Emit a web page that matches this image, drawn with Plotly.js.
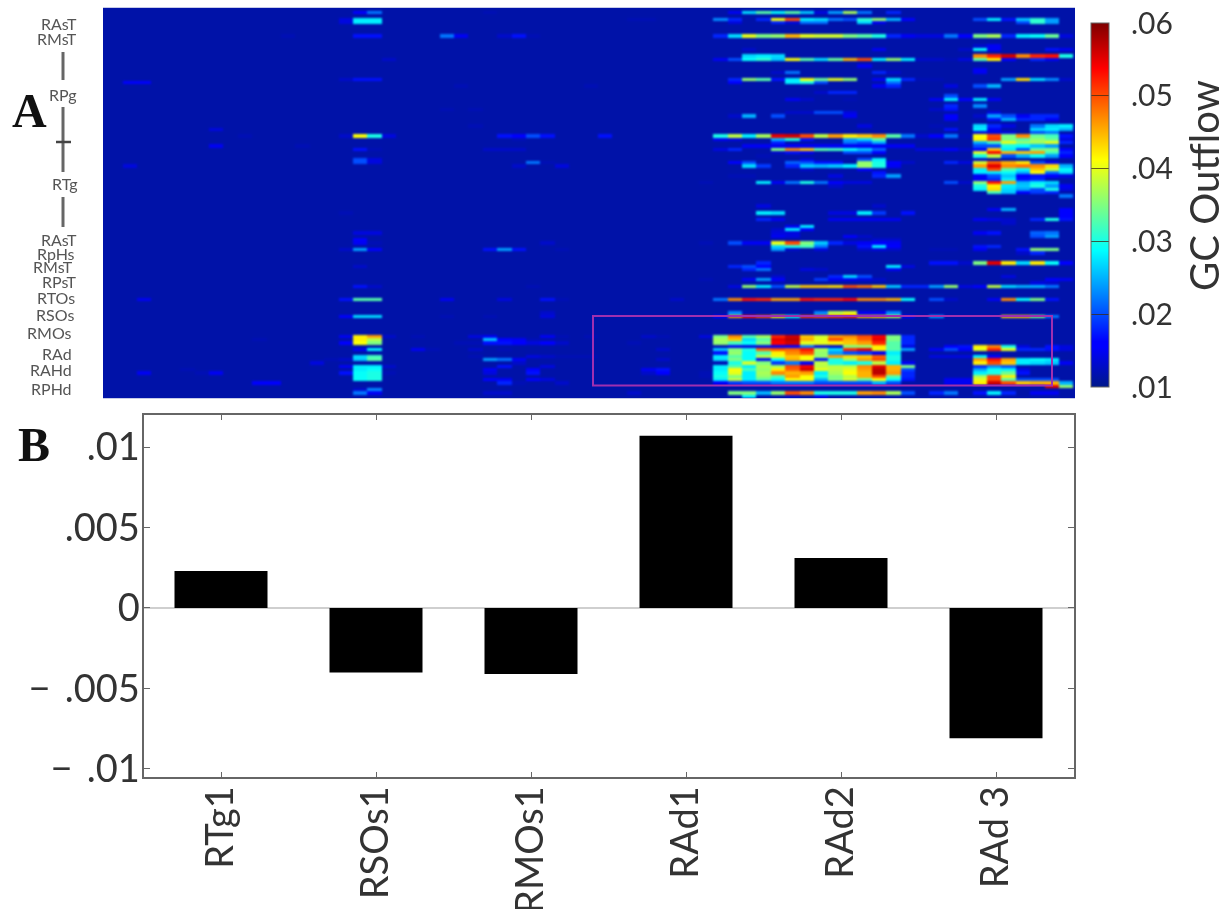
<!DOCTYPE html>
<html><head><meta charset="utf-8">
<script src="https://cdn.plot.ly/plotly-3.0.1.min.js"></script>
<style>html,body{margin:0;padding:0;background:#fff}#c{width:1228px;height:909px;filter:blur(0.4px)}
.hm image{filter:blur(0.8px)}</style></head><body><div id="c"></div>
<script>
const barCategories=['RTg1','RSOs1','RMOs1','RAd1','RAd2','RAd 3'];
const barValues=[0.0023,-0.004,-0.0041,0.0107,0.0031,-0.0081];
const gcTicks=[0.01,0.02,0.03,0.04,0.05,0.06];
const gcTickText=['.01','.02','.03','.04','.05','.06'];
const regionLabels=['RAsT','RMsT','RPg','RTg','RAsT','RpHs','RMsT','RPsT','RTOs','RSOs','RMOs','RAd','RAHd','RPHd'];
const barTickVals=[-0.01,-0.005,0,0.005,0.01];
const barTickText=['\u2212\u2009\u2009\u2009.01','\u2212\u2009\u2009\u2009.005','0','.005','.01'];
const backgroundValue=11.4;
// GC outflow in thousandths: [row, first column, values...]; 0 leaves the background
const segLeft=[
[1,17,16,22],[3,16,14,28,28],[4,16,14,28,28],[8,12,12],[8,17,17,17],[15,19,13],[21,16,13,17,17],[22,1,16,16],
[36,7,14],[38,9,12],[38,16,13,41,30,14],[41,7,15],[41,13,12],[42,17,17,12],[45,17,20,14],[46,17,20,14],[47,1,14],
[61,16,12],[67,17,14,14],[69,17,16],[70,17,15,12],[72,16,13,24,16],[77,17,13],[83,17,17,13],[87,2,15],[87,16,17,33,33],
[92,16,16,27,27],[98,16,15,42,46,13],[98,21,12],[99,10,12],[99,17,42,38],[100,16,16,41,35],[102,17,15,28],[102,21,15,12],
[104,17,27,32],[105,15,12,13,26,33],[106,14,14],[107,16,15,28,28,13],[108,5,12],[108,17,28,29],[109,2,15],[109,6,12,15],
[109,16,17,29,30,12],[110,17,29,30],[111,17,29,30],[112,10,16,16],[114,17,13,23],[115,17,22,15]];
const segMiddle=[
[1,26,12],[3,36,12,12],[8,23,22,15],[8,27,13,17,12],[23,24,12],[23,33,12],[30,23,12],[30,25,12],[35,25,12],
[38,27,17,16,20,17],[38,34,17],[39,28,12],[42,26,13,13,13],[46,29,22,12],[47,28,13],[47,31,14],[52,41,12],
[70,30,13],[70,41,12],[72,26,17,24,17],[72,31,12],[81,41,12],[83,29,12],[87,23,15],[87,27,14],[87,30,17,12],[87,39,13],
[91,30,13],[92,23,12],[92,26,12],[92,30,14],[98,25,14,15],[98,30,15,12],[98,33,12],[98,37,13,12],[98,41,14],
[99,26,26,16,15,12],[100,24,12,12,17,17,16,14,16,13],[100,36,12],[102,25,13],[102,27,12],[102,38,13],
[104,25,12],[104,29,14,13,12,12,12],[105,26,24,22,15],[105,38,13],[106,28,13],[107,27,17],[107,30,14],
[108,26,15],[108,29,16],[108,37,15,17],[109,26,14],[109,29,17],[109,37,13,16],[109,41,12],[110,41,12],
[111,26,16,15,0,16,14],[112,27,18,12],[112,31,13],[115,26,13,13],[115,36,13]];
const segRightUpper=[
[1,43,15,27,33,29,33,26,14,24,37,22,0,18],
[3,42,23,18,0,18,41,50,28,27,22,20,31,36,25,16],[3,60,20,28,17,26,31,24],
[4,43,14,0,0,18,14,22,22,0,0,27,15],[4,63,20,31,24],
[8,42,18,27,40,35,36,45,40,39,39,35,33,30,18,15,14,14,22,16,35,37,18,28,29,34,14],
[11,60,13,15],[12,44,13],[12,53,15],[12,59,13,29,15],[12,65,17,15],
[14,44,27,28,27],[14,60,47,52,56,47,52,53,30],
[15,42,15,20,29,31,26,41,33,27,34,45,50,28,36,28,13,13,12,14,33,42,16,0,18,15],
[17,52,15],[18,60,15],[19,46,13,22],[19,53,18,13],[19,60,15],
[21,43,18,36,33,17,28,41,34,40,36,0,15,27,18,12,12],[21,62,24,43,27,23,13],
[22,43,16,0,0,0,28,30,20],[22,54,22],
[23,53,15,18],[23,58,14,0,20,25],[25,49,13,18,18],[26,58,20],[27,47,15,13,0,0,12],[27,57,15,28,16,28,15],
[29,58,18,0,23],[30,57,13,17],[31,47,13,13,20,20,14],[31,61,14],
[32,43,13,25,0,20],[32,51,15],[32,58,16],[32,60,13,24,20,15,18,18],[33,58,15],[33,61,17,25,18,18,15],
[35,52,14],[35,57,12],[35,60,27,18,14,0,22,27,28],[36,58,17],[36,60,28,15,0,0,27,28,25],
[37,60,14,14,14,0,20,22],
[38,42,30,38,28,37,55,56,50,38,46,42,44,47,33,22,13,16,22,12,41,50,35,47,34,32,17],
[39,42,15,14,0,0,25,30,17,0,0,24,27,33],[39,60,42,51,35,33,36,34,14],
[40,46,18],[40,51,22,20,25],[40,60,25,32,40,36,37,40,18],
[41,44,15,15,15,15,15,15,15,15,15,15,15,15],[41,60,20,20,30,29,26,24],
[42,42,14,18,0,0,35,47,44,33,32,29,26,21,0,0,14,14,16,13,16,44,28,20,34,35,16],
[43,46,13,17,15,0,0,20,20,16],[43,60,40,54,45,44,46,32,18],
[44,45,12],[44,60,30,38,20,25,29,24,16],[45,48,14],[45,52,20,28],[45,60,13],
[46,43,16,20,0,0,21,20,17,17,0,36,30,16,13,0,0,18,14,39,49,45,42,20,15],
[47,44,27,19,0,18,26,25,26,28,36,30,15],[47,60,46,55,47,48,47,43,25],
[48,48,13],[48,52,16],[48,60,28,50,33,29,44,38,29],
[49,53,17],[49,60,28,28,29,25,41,22,27],
[50,43,12,12],[50,50,14],[50,53,18,24],[50,60,15,20,26,16,17,16,14],[51,60,15,18,28,17,18],
[52,45,28,15,22,30,22,16,14,14],[52,58,20,13,36,53,46,25,28,27],[53,50,13],[53,60,30,42,28,26,30,24,15],
[54,60,28,43,27,24,20,30,14],[55,61,32,26,16,19,18],[56,66,22]];
const segRightLower=[
[59,45,14],[59,53,13],[60,61,15,25],[60,66,16],[61,45,28,27],[61,50,14,14,28,19,0,17],[61,66,16],[62,66,16],
[63,45,18,15],[63,50,15,15,15,15,15],[63,60,15,14,13,0,18,30,17],[64,62,13],[65,47,15,28],[66,46,13,28,16],
[67,46,14,14],[67,60,15,17],[67,64,21,22],[68,46,15,14],[68,51,16,13],[68,64,20,24],[69,53,13,13],
[70,43,20,15,15,40,50,35,26,18,14,15,16,15],[71,46,27,30,32,22,0,0,17,28,16],[71,60,17,18],
[72,46,24,13,0,14],[72,52,13,14,13],[72,57,12,12,0,15],[72,63,17,36,35],[73,63,13,18],
[76,45,18],[76,57,17,17,13,35,55,42,27,42,29,16],[77,43,18,20,16],[77,54,28,14],[78,44,18,22],[78,48,14,13],[78,54,15],
[80,46,13],[80,50,18,27,20],[80,62,14],[81,44,15,24,16],[81,49,19,15,15,14,13],[81,65,16,15],[82,46,12],[82,64,14,13],
[83,43,14,36,28,20,38,44,44,43,50,48,44,26,18,18,24,36,14,16,38,27,25,25,22],
[87,42,22,47,53,52,46,46,53,52,52,54,47,47,45,29,0,20,13],[87,61,15,47,29,35,17],
[91,44,12],[91,43,23],[91,49,23,38,40,15,15,23],
[92,42,16,46,53,50,42,30,51,50,51,52,45,44,38,15,0,24],[92,62,44,44,35,22],
[98,42,35,47,33,37,52,56,44,39,46,47,50,54,35,18],
[99,42,37,44,27,33,55,57,45,40,50,45,49,55,35,18],
[100,42,36,32,29,35,54,56,40,40,42,44,46,52,33,18],
[101,42,12,15,14,14,15,16,22,14,13,35,36,42,33,14],[101,58,16,17,42,47,30,14,0,17,14],
[102,42,26,35,30,49,50,49,53,37,27,52,55,42,33,24,0,15,20,16,40,52,40,18,18,17,14],
[103,42,17,36,29,33,42,47,50,36,24,20,19,15,28],
[104,42,28,33,29,38,40,44,41,36,46,43,44,49,30,0,0,14,14,14,28,16],
[105,42,27,35,29,15,29,45,41,17,30,37,46,50,30],[105,60,46,53,46,28,29,28],
[106,42,12,30,39,35,19,22,15,38,30,28,30,38,28,15],[106,60,42,50,44,28,27,26,15],
[107,42,28,33,28,37,37,50,54,38,38,38,47,55,45,35],[107,60,18,23,20],
[108,42,28,41,32,36,42,49,56,40,38,40,46,57,45,20],[108,60,24,29,28,14],
[109,42,29,40,28,37,47,45,46,28,37,41,45,57,46,18],[109,60,28,30,34,17],
[110,42,30,35,28,36,33,46,41,30,35,38,45,50,33,18],[110,60,37,50,42],
[111,42,28,38,28,33,29,41,41,25,35,39,34,41,29,17],[111,58,15,15,40,50,33,20,20,20],
[112,42,16,19,20,20,22,22,22,20,20,20,20,25,20],[112,58,15,15,42,56,50,44,45,45,25],
[113,65,55,36],
[115,43,35,35,25,36,50,47,30,30,30,46,47,37,20,0,18,22,0,17,28,18,0,15,15],
[116,44,28],[116,47,13],[116,49,15]];

const rows=[],cols=[];
for(let r=-1;r<=117;r++)rows.push(r);
for(let c=-1;c<=67;c++)cols.push(c);
const z=rows.map(()=>cols.map(()=>backgroundValue/1000));
[segLeft,segMiddle,segRightUpper,segRightLower].forEach(list=>list.forEach(seg=>{
  const r=seg[0],c0=seg[1];
  for(let i=2;i<seg.length;i++){ if(seg[i]) z[r+1][c0+i-2+1]=seg[i]/1000; }
}));
const W=1228,H=909;
const px=x=>x/W, py=y=>1-y/H;
const jet=[[0,'#00188a'],[0.11,'#0000ff'],[0.125,'#0000ff'],[0.375,'#00ffff'],[0.625,'#ffff00'],[0.875,'#ff0000'],[1,'#7f0000']];
const ink='#333';
const labelPos=[[79,24],[79,39],[79,95],[79,183],[79,239],[77,253],[75,266],[79,281],[77,297],[76,314],[74,332],[74,353],[74,369],[74,388]];
const annotations=regionLabels.map((t,i)=>({xref:'paper',yref:'paper',x:px(labelPos[i][0]),y:py(labelPos[i][1]),xanchor:'right',yanchor:'middle',showarrow:false,text:t,font:{family:'Lato',size:16,color:'#555'}}));
annotations.push({xref:'paper',yref:'paper',x:px(10),y:py(110),xanchor:'left',yanchor:'middle',showarrow:false,text:'<b>A</b>',font:{family:'Liberation Serif',size:48,color:'#111'}});
annotations.push({xref:'paper',yref:'paper',x:px(16),y:py(444),xanchor:'left',yanchor:'middle',showarrow:false,text:'<b>B</b>',font:{family:'Liberation Serif',size:48,color:'#111'}});
annotations.push({xref:'paper',yref:'paper',x:px(1204),y:py(186),xanchor:'center',yanchor:'middle',textangle:-90,showarrow:false,text:'GC Outflow',font:{family:'Lato',size:40,color:ink}});
const vline=(x,y0,y1)=>({type:'line',xref:'paper',yref:'paper',x0:px(x),x1:px(x),y0:py(y0),y1:py(y1),line:{color:'#666',width:3}});
const shapes=[vline(63,52,80),vline(63,107,172),vline(63,197,227),
 {type:'line',xref:'paper',yref:'paper',x0:px(56),x1:px(71),y0:py(142),y1:py(142),line:{color:'#444',width:2.5}},
 {type:'rect',xref:'paper',yref:'paper',x0:px(593),x1:px(1052),y0:py(316),y1:py(385.5),line:{color:'#a02fb0',width:2}}];
const traces=[
 {type:'heatmap',x:cols,y:rows,z:z,zmin:0.01,zmax:0.06,colorscale:jet,zsmooth:false,xaxis:'x',yaxis:'y',hoverinfo:'skip',
  colorbar:{x:px(1091),xanchor:'left',y:py(205),yanchor:'middle',lenmode:'pixels',len:364,thicknessmode:'pixels',thickness:18,xpad:0,ypad:0,
   tickmode:'array',tickvals:gcTicks,ticktext:gcTickText.map(t=>'\u2002'+t),ticks:'inside',ticklen:18,tickcolor:'rgba(60,40,20,0.75)',tickwidth:1,
   outlinecolor:'#666',outlinewidth:1,tickfont:{family:'Lato',size:30,color:ink}}},
 {type:'bar',x:barCategories,y:barValues,width:0.6,marker:{color:'#000'},xaxis:'x2',yaxis:'y2',hoverinfo:'skip'}
];
const layout={width:W,height:H,margin:{l:0,r:0,t:0,b:0},paper_bgcolor:'#fff',plot_bgcolor:'#fff',showlegend:false,bargap:0.4,
 xaxis:{domain:[px(103),px(1075)],range:[-0.86,66.63],showticklabels:false,ticks:'',showgrid:false,zeroline:false,showline:true,mirror:true,linecolor:'#c6cae8',linewidth:1,anchor:'y'},
 yaxis:{domain:[py(398),py(8)],range:[116.6,-0.4],showticklabels:false,ticks:'',showgrid:false,zeroline:false,anchor:'x'},
 xaxis2:{domain:[px(143.5),px(1073.5)],range:[-0.5,5.5],type:'category',anchor:'y2',showgrid:false,zeroline:false,showline:true,mirror:'ticks',linecolor:'#666',linewidth:2,ticks:'inside',ticklen:5,tickcolor:'#666',tickangle:-90,ticklabelstandoff:-8,tickfont:{family:'Lato',size:38,color:ink}},
 yaxis2:{domain:[py(777),py(415)],range:[-0.0105,0.01199],anchor:'x2',showgrid:false,zeroline:true,zerolinecolor:'#cfcfcf',zerolinewidth:2,showline:true,mirror:'ticks',linecolor:'#666',linewidth:2,ticks:'inside',ticklen:6,tickcolor:'#666',tickmode:'array',tickvals:barTickVals,ticktext:barTickText,ticklabelstandoff:-6,tickfont:{family:'Lato',size:38,color:ink}},
 annotations:annotations,shapes:shapes};
Plotly.newPlot('c',traces,layout,{displayModeBar:false,responsive:false});
</script></body></html>
